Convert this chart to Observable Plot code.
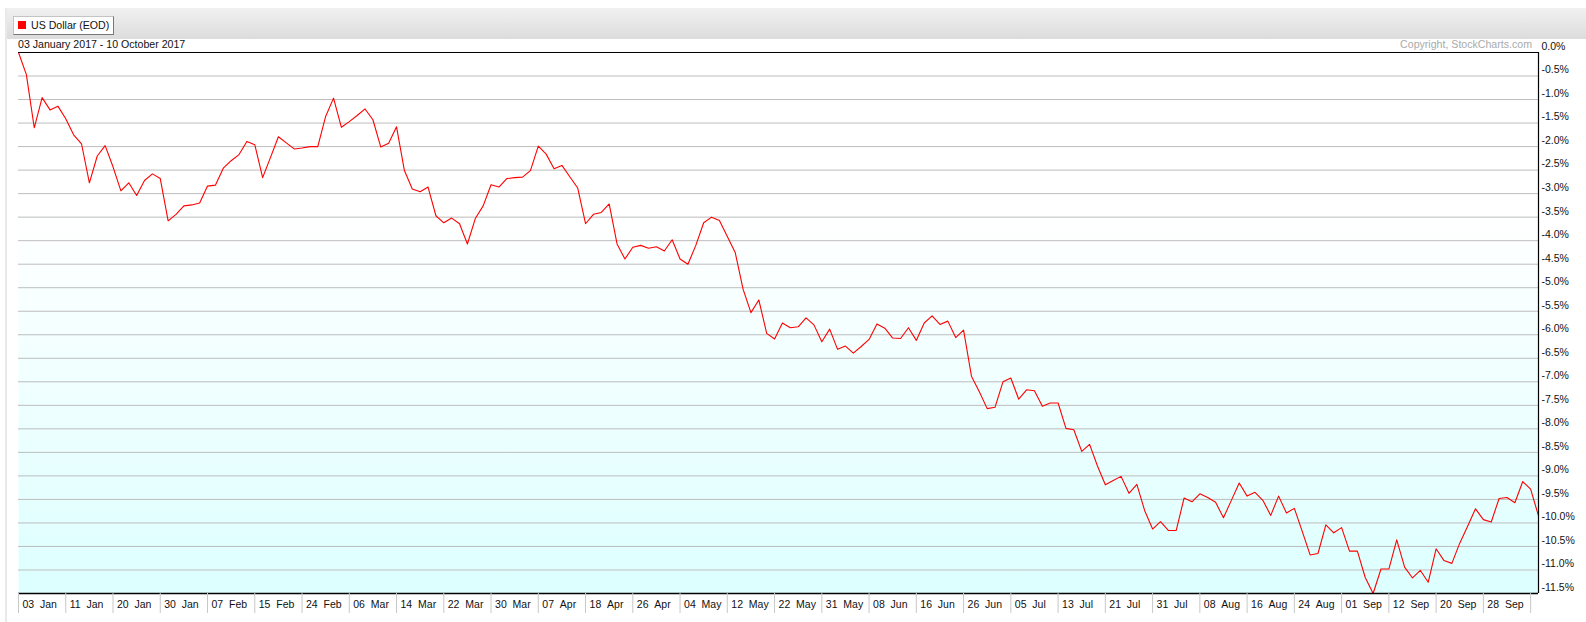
<!DOCTYPE html>
<html>
<head>
<meta charset="utf-8">
<script src="https://cdn.jsdelivr.net/npm/d3@7"></script>
<script src="https://cdn.jsdelivr.net/npm/@observablehq/plot@0.6"></script>
<style>
  html, body { margin: 0; padding: 0; background: #fff; }
  #wrap { position: relative; width: 1586px; height: 622px; overflow: hidden; font-family: "Liberation Sans", Arial, sans-serif; }
  #wrap svg { position: absolute; left: 0; top: 0; white-space: pre; }
  .abs { position: absolute; }
</style>
</head>
<body>
<div id="wrap">
  <div class="abs" style="left:6px;top:8px;width:1580px;height:31px;background:linear-gradient(#f1f1f1,#dcdcdc);"></div>
  <div class="abs" style="left:5px;top:8px;width:2px;height:614px;background:#e9e9e9;"></div>
</div>
<script>
// ---- data ----
const title = "US Dollar (EOD)";
const dateRange = "03 January 2017 - 10 October 2017";
const copyright = "Copyright, StockCharts.com";

const tickLabels = ["03 Jan","11 Jan","20 Jan","30 Jan","07 Feb","15 Feb","24 Feb","06 Mar","14 Mar","22 Mar","30 Mar",
  "07 Apr","18 Apr","26 Apr","04 May","12 May","22 May","31 May","08 Jun","16 Jun","26 Jun","05 Jul",
  "13 Jul","21 Jul","31 Jul","08 Aug","16 Aug","24 Aug","01 Sep","12 Sep","20 Sep","28 Sep"];

// percent change since 03 Jan 2017, one value per trading day
const values = [
  0.0, -0.47, -1.6, -0.96, -1.22, -1.14, -1.41, -1.75, -1.94, -2.77,
  -2.2, -1.98, -2.43, -2.94, -2.77, -3.04, -2.72, -2.58, -2.68, -3.58,
  -3.44, -3.26, -3.24, -3.2, -2.84, -2.82, -2.46, -2.3, -2.17, -1.89,
  -1.96, -2.66, -2.23, -1.79, -1.92, -2.05, -2.03, -2.0, -2.0, -1.36,
  -0.97, -1.59, -1.47, -1.34, -1.2, -1.43, -2.01, -1.93, -1.58, -2.51,
  -2.9, -2.96, -2.86, -3.47, -3.62, -3.52, -3.64, -4.07, -3.53, -3.26,
  -2.81, -2.86, -2.68, -2.66, -2.65, -2.51, -1.99, -2.16, -2.47, -2.4,
  -2.64, -2.88, -3.64, -3.44, -3.4, -3.22, -4.07, -4.39, -4.14, -4.1,
  -4.16, -4.13, -4.22, -3.98, -4.39, -4.5, -4.1, -3.62, -3.5, -3.57,
  -3.91, -4.25, -5.03, -5.53, -5.26, -5.97, -6.09, -5.75, -5.85, -5.83,
  -5.64, -5.79, -6.15, -5.88, -6.31, -6.24, -6.39, -6.25, -6.1, -5.77,
  -5.86, -6.07, -6.08, -5.85, -6.12, -5.75, -5.6, -5.78, -5.71, -6.06,
  -5.9, -6.88, -7.21, -7.57, -7.54, -7.0, -6.92, -7.37, -7.17, -7.19,
  -7.52, -7.45, -7.45, -7.99, -8.02, -8.48, -8.33, -8.79, -9.19, -9.1,
  -9.01, -9.37, -9.18, -9.74, -10.13, -9.97, -10.16, -10.16, -9.47, -9.55,
  -9.38, -9.46, -9.56, -9.89, -9.52, -9.15, -9.43, -9.35, -9.52, -9.84,
  -9.43, -9.79, -9.69, -10.18, -10.68, -10.65, -10.04, -10.21, -10.1, -10.6,
  -10.6, -11.16, -11.5, -10.98, -10.98, -10.36, -10.94, -11.17, -11.01, -11.26,
  -10.55, -10.8, -10.86, -10.43, -10.07, -9.7, -9.93, -9.98, -9.48, -9.46,
  -9.57, -9.12, -9.28, -9.85
];

const yTicks = d3.range(0, -11.51, -0.5);
const gridVals = yTicks.filter(v => v < 0 && v > -11.5);
const labelIdx = tickLabels.map((d, i) => i * 6);
const sepIdx = d3.range(0, values.length, 6);
const lastIdx = values.length - 1;

const chart = Plot.plot({
  width: 1586,
  height: 622,
  marginLeft: 18,
  marginRight: 48,
  marginTop: 52,
  marginBottom: 29,
  x: {type: "linear", domain: [0, lastIdx], axis: null, label: null},
  y: {domain: [-11.5, 0], axis: null, label: null},
  style: {fontFamily: "Liberation Sans, Arial, sans-serif", fontSize: "10.5px", background: "transparent", overflow: "visible", color: "#000"},
  marks: [
    Plot.frame({fill: "url(#bgGrad)", stroke: null}),
    Plot.ruleY(gridVals, {stroke: "#bdbdbd", strokeWidth: 1}),
    Plot.line(values, {x: (d, i) => i, y: d => d, stroke: "#ff0000", strokeWidth: 1.1}),
    Plot.ruleY([0], {stroke: "#000", strokeWidth: 1.2}),
    Plot.ruleY([-11.5], {stroke: "#000", strokeWidth: 1.5}),
    Plot.ruleX([lastIdx], {stroke: "#000", strokeWidth: 1.2}),
    Plot.axisX({ticks: sepIdx, tickSize: 20, tickFormat: () => "", stroke: "#c8c8c8", label: null}),
    Plot.axisX({ticks: labelIdx, tickSize: 0, tickPadding: 7, textAnchor: "start", dx: 4, fill: "#111", label: null,
      tickFormat: i => tickLabels[Math.round(i / 6)].replace(" ", "\u00a0\u00a0")}),
    Plot.axisY({anchor: "right", ticks: yTicks, tickSize: 0, tickPadding: 3, dy: -6, fill: "#111", label: null,
      tickFormat: d => (Math.abs(d) < 1e-9 ? 0 : d).toFixed(1) + "%"})
  ]
});

const grad = d3.select(chart).insert("defs", ":first-child")
  .append("linearGradient").attr("id", "bgGrad")
  .attr("x1", 0).attr("y1", 0).attr("x2", 0).attr("y2", 1);
grad.append("stop").attr("offset", "0").attr("stop-color", "#ffffff");
grad.append("stop").attr("offset", "0.3").attr("stop-color", "#ffffff");
grad.append("stop").attr("offset", "1").attr("stop-color", "#ddffff");

const wrap = document.getElementById("wrap");
wrap.appendChild(chart);

// header overlays
const btn = document.createElement("div");
btn.className = "abs";
btn.style.cssText = "left:13px;top:16px;width:99px;height:17px;background:#fff;border:1px solid #c4c4c4;border-right-color:#777;border-bottom-color:#777;";
wrap.appendChild(btn);
const sq = document.createElement("div");
sq.className = "abs";
sq.style.cssText = "left:18px;top:21px;width:8px;height:8px;background:#ff0000;";
wrap.appendChild(sq);
const t = document.createElement("div");
t.className = "abs";
t.style.cssText = "left:31px;top:18px;font-size:10.6px;line-height:14px;color:#111;white-space:nowrap;";
t.textContent = title;
wrap.appendChild(t);
const dr = document.createElement("div");
dr.className = "abs";
dr.style.cssText = "left:18px;top:37px;font-size:10.6px;line-height:14px;color:#111;white-space:nowrap;";
dr.textContent = dateRange;
wrap.appendChild(dr);
const cp = document.createElement("div");
cp.className = "abs";
cp.style.cssText = "right:54px;top:37px;font-size:10.6px;line-height:14px;color:#aaaaaa;white-space:nowrap;";
cp.textContent = copyright;
wrap.appendChild(cp);
</script>
</body>
</html>
